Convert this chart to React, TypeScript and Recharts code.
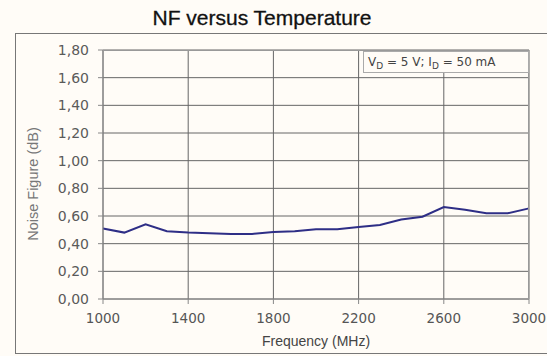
import { LineChart, Line, XAxis, YAxis, CartesianGrid } from "recharts";

const frequency = [1000, 1100, 1200, 1300, 1400, 1500, 1600, 1700, 1800, 1900, 2000, 2100, 2200, 2300, 2400, 2500, 2600, 2700, 2800, 2900, 3000];
const noiseFigure = [0.51, 0.48, 0.54, 0.49, 0.48, 0.475, 0.47, 0.47, 0.485, 0.49, 0.505, 0.505, 0.52, 0.535, 0.575, 0.595, 0.665, 0.645, 0.62, 0.62, 0.655];
const xTicks = [1000, 1400, 1800, 2200, 2600, 3000];
const yTicks = [0, 0.2, 0.4, 0.6, 0.8, 1.0, 1.2, 1.4, 1.6, 1.8];

const data = frequency.map((f, i) => ({ f, nf: noiseFigure[i] }));

const FONT = "Arial, 'Liberation Sans', sans-serif";
const WIDE = "'DejaVu Sans', Verdana, sans-serif";
const BG = "#fffcf7";

export default function App() {
  return (
    <div style={{ position: "relative", width: 547, height: 356, background: BG, fontFamily: FONT, overflow: "hidden" }}>
      <style>{"body{margin:0}"}</style>
      {/* outer frame */}
      <div style={{ position: "absolute", left: 15, top: 33, width: 560, height: 321, border: "1.5px solid #777", boxSizing: "border-box" }} />
      <div style={{ position: "absolute", left: 0, width: 524, top: 6, textAlign: "center", fontSize: 21, color: "#111", WebkitTextStroke: "0.3px #111" }}>
        NF versus Temperature
      </div>
      <div style={{ position: "absolute", left: 0, top: 0 }}>
        <LineChart width={547} height={356} data={data} margin={{ top: 50, right: 18, bottom: 27, left: 43 }} style={{ overflow: "visible" }}>
          <CartesianGrid stroke="#666" strokeWidth={1} />
          <XAxis
            dataKey="f"
            type="number"
            domain={[1000, 3000]}
            ticks={xTicks}
            height={30}
            tick={{ fill: "#555", fontSize: 13.5, fontFamily: WIDE }}
            tickSize={5}
            tickMargin={9}
            axisLine={{ stroke: "#888" }}
            tickLine={{ stroke: "#888" }}
            interval={0}
          />
          <YAxis
            type="number"
            domain={[0, 1.8]}
            ticks={yTicks}
            width={60}
            tick={{ fill: "#5a5a5a", fontSize: 14, fontFamily: WIDE }}
            tickFormatter={(v: number) => v.toFixed(2).replace(".", ",")}
            tickSize={5}
            tickMargin={9}
            axisLine={{ stroke: "#888" }}
            tickLine={{ stroke: "#888" }}
            interval={0}
          />
          <Line type="linear" dataKey="nf" stroke="#2e2e86" strokeWidth={2} dot={false} isAnimationActive={false} />
        </LineChart>
      </div>
      {/* plot border right/top */}
      <div style={{ position: "absolute", left: 103, top: 50, width: 426, height: 249, border: "1px solid #999", borderLeft: "none", borderBottom: "none", boxSizing: "border-box", pointerEvents: "none" }} />
      <div style={{ position: "absolute", left: 363, top: 51, width: 166, height: 22, background: BG, border: "1px solid #aaa", boxSizing: "border-box", fontSize: 12, fontFamily: WIDE, color: "#444", paddingLeft: 4, lineHeight: "20px", whiteSpace: "nowrap" }}>
        V<sub style={{ fontSize: 9 }}>D</sub> = 5 V; I<sub style={{ fontSize: 9 }}>D</sub> = 50 mA
      </div>
      <div style={{ position: "absolute", left: 316, top: 333, transform: "translateX(-50%)", fontSize: 14, color: "#444", whiteSpace: "nowrap" }}>
        Frequency (MHz)
      </div>
      <div style={{ position: "absolute", left: 33, top: 184, transform: "translate(-50%, -50%) rotate(-90deg)", fontSize: 14.5, color: "#777", whiteSpace: "nowrap" }}>
        Noise Figure (dB)
      </div>
    </div>
  );
}
